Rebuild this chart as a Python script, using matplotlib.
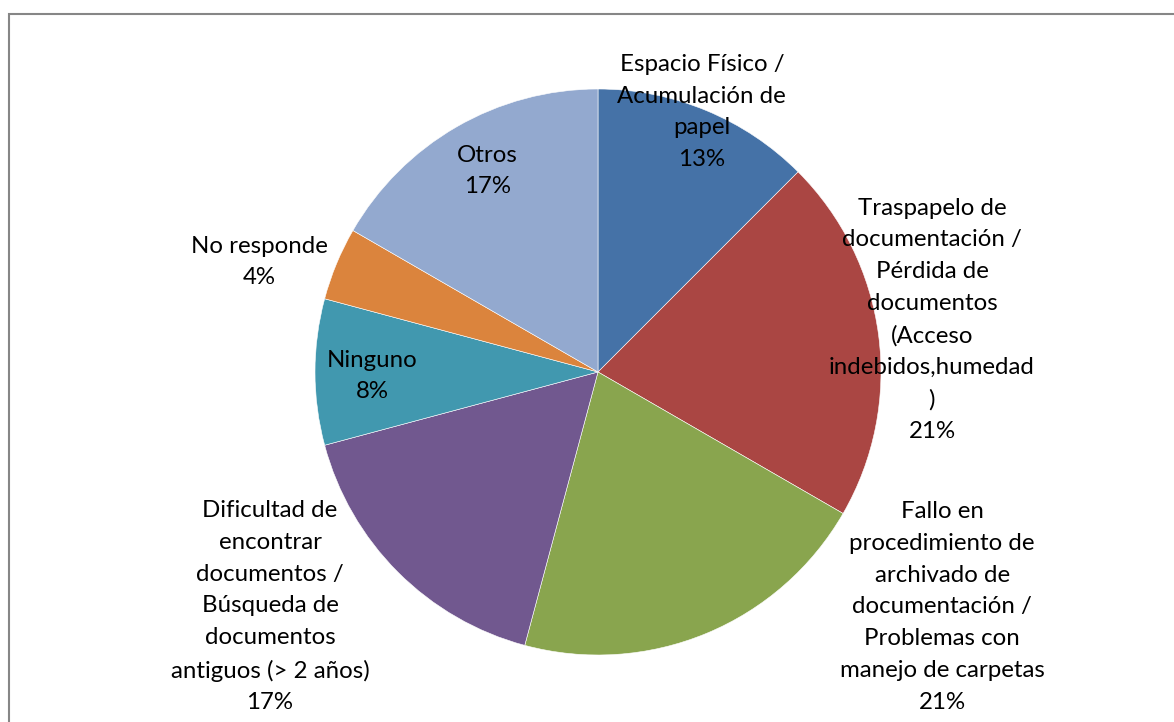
import matplotlib
matplotlib.use("Agg")
import matplotlib.pyplot as plt
from matplotlib.patches import Rectangle

# ============ Data ============
categories = [
    "Espacio Físico /\nAcumulación de\npapel",
    "Traspapelo de\ndocumentación /\nPérdida de\ndocumentos\n(Acceso\nindebidos,humedad\n)",
    "Fallo en\nprocedimiento de\narchivado de\ndocumentación /\nProblemas con\nmanejo de carpetas",
    "Dificultad de\nencontrar\ndocumentos /\nBúsqueda de\ndocumentos\nantiguos (> 2 años)",
    "Ninguno",
    "No responde",
    "Otros",
]
counts = [3, 5, 5, 4, 2, 1, 4]

colors = ["#4572A7", "#AA4643", "#89A54E", "#71588F", "#4198AF", "#DB843D", "#93A9CF"]

# label centres, in pie-radius units
label_pos = [(0.367, 0.919), (1.180, 0.184), (1.216, -0.830), (-1.159, -0.830),
             (-0.799, -0.014), (-1.198, 0.389), (-0.392, 0.710)]

plt.rcParams['font.family'] = ['Lato', 'DejaVu Sans']

fig = plt.figure(figsize=(11.74, 7.22), dpi=100)
ax = fig.add_axes([0, 0, 1, 1])

ax.pie(counts, colors=colors, startangle=90, counterclock=False, radius=1,
       wedgeprops=dict(edgecolor='white', linewidth=0.4))

total = sum(counts)
for name, n, (x, y) in zip(categories, counts, label_pos):
    # excel style rounding (half up)
    pct = f"{int(100 * n / total + 0.5)}%"
    ax.text(x, y, f"{name}\n{pct}", ha='center', va='center', fontsize=17.3,
            linespacing=1.63, color='black')

ax.set_xlim(-598 / 283, (1174 - 598) / 283)
ax.set_ylim((372 - 722) / 283, 372 / 283)
ax.set_aspect('auto')
ax.axis('off')

# chart area border
fig.patches.append(Rectangle((9 / 1174, -0.1), 1.2, (722 - 14) / 722 + 0.1,
                             transform=fig.transFigure, fill=False,
                             edgecolor='#868686', linewidth=1.5))

fig.savefig("out.png", dpi=100)
